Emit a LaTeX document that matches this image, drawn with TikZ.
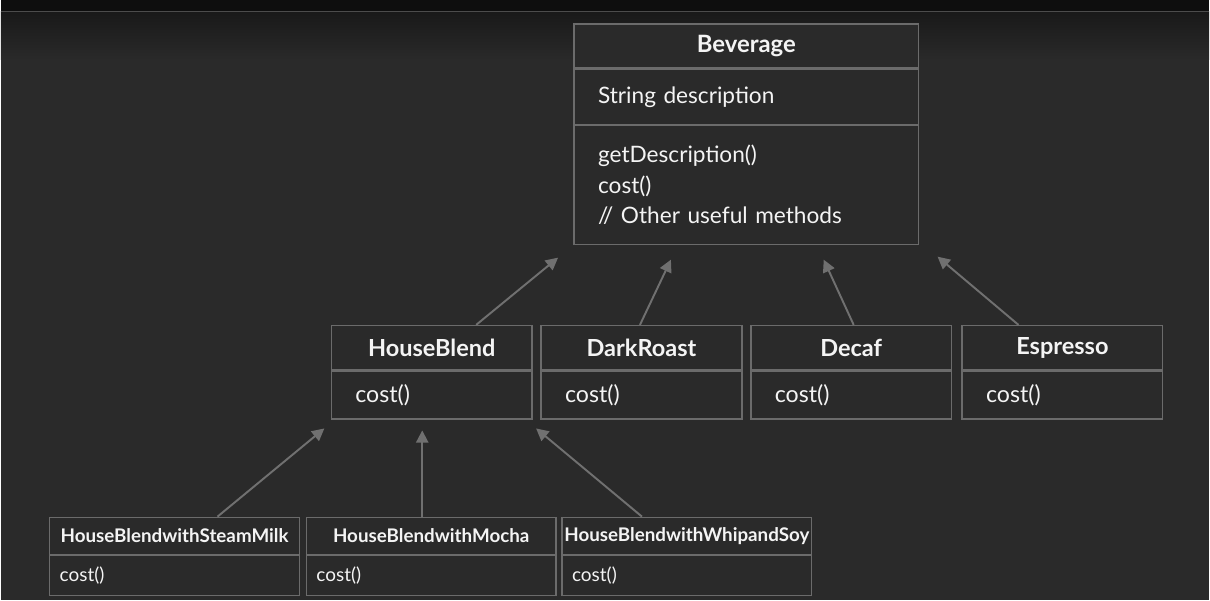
\documentclass[tikz,border=0pt]{standalone}
\usepackage{fontspec}
\setmainfont{Lato}
\usetikzlibrary{positioning,arrows.meta}

\definecolor{bgcol}{HTML}{2A2A2A}
\definecolor{topcol}{HTML}{0E0E0E}
\definecolor{rulecol}{HTML}{4C4C4C}
\definecolor{edgecol}{HTML}{6B6B6B}
\definecolor{arrowcol}{HTML}{707070}
\definecolor{textcol}{HTML}{F4F4F4}

\tikzset{
  box/.style={draw=edgecol, line width=0.8pt, fill=bgcol, text=textcol, inner sep=0pt},
  bigtitle/.style={box, font=\bfseries\fontsize{13.6}{16}\selectfont, minimum width=6.9cm, minimum height=0.88cm},
  bigbody/.style={box, font=\fontsize{12.9}{17.3}\selectfont, align=left, inner xsep=0.48cm, text width=5.94cm},
  midtitle/.style={box, font=\bfseries\fontsize{13.4}{16}\selectfont, minimum width=4.02cm, minimum height=0.88cm},
  midbody/.style={box, font=\fontsize{13.2}{16}\selectfont, align=left, inner xsep=0.48cm, text width=3.06cm, minimum height=0.96cm},
  smalltitle/.style={box, font=\bfseries\fontsize{10.7}{13}\selectfont, minimum width=5cm, minimum height=0.74cm},
  smallbody/.style={box, font=\fontsize{10.8}{13}\selectfont, align=left, inner xsep=0.2cm, text width=4.6cm, minimum height=0.8cm},
  inherit/.style={draw=arrowcol, line width=1.1pt, -{Triangle[length=7pt, width=7pt]}}
}

\begin{document}
\begin{tikzpicture}[x=0.02cm, y=-0.02cm]
  % background
  \fill[bgcol] (0,0) rectangle (1210,601);
  \shade[top color=topcol!60!bgcol, bottom color=bgcol] (0,12) rectangle (1210,60);
  \fill[topcol] (0,0) rectangle (1210,11);
  \draw[rulecol, line width=0.9pt] (0,11.5) -- (1210,11.5);

  % base class
  \node[bigtitle] (Bev) at (746.5,46) {Beverage};
  \node[bigbody, minimum height=1.1cm, below=0pt of Bev] (BevAttr) {String description};
  \node[bigbody, minimum height=2.38cm, below=0pt of BevAttr] (BevOps) {getDescription()\\cost()\\// Other useful methods};

  % subclasses
  \node[midtitle] (HB) at (431.5,348) {HouseBlend};
  \node[midbody, below=0pt of HB] (HBOps) {cost()};
  \node[midtitle] (DR) at (641.5,348) {DarkRoast};
  \node[midbody, below=0pt of DR] (DROps) {cost()};
  \node[midtitle] (De) at (851.5,348) {Decaf};
  \node[midbody, below=0pt of De] (DeOps) {cost()};
  \node[midtitle] (Es) at (1063,348) {Espresso};
  \node[midbody, below=0pt of Es] (EsOps) {cost()};

  % house blend variants
  \node[smalltitle] (SM) at (174,536.5) {HouseBlendwithSteamMilk};
  \node[smallbody, below=0pt of SM] (SMOps) {cost()};
  \node[smalltitle] (Mo) at (431,536.5) {HouseBlendwithMocha};
  \node[smallbody, below=0pt of Mo] (MoOps) {cost()};
  \node[smalltitle] (WS) at (687,536.5) {HouseBlendwithWhipandSoy};
  \node[smallbody, below=0pt of WS] (WSOps) {cost()};

  % arrow tips
  \coordinate (HBtip) at (558,258);
  \coordinate (DRtip) at (671,260);
  \coordinate (Detip) at (824,260);
  \coordinate (Estip) at (938,257);
  \coordinate (SMtip) at (324,429);
  \coordinate (Motip) at (422,431);
  \coordinate (WStip) at (536,429);

  \draw[inherit] (HB.north) ++(44.5,0) -- (HBtip);
  \draw[inherit] (DR.north) ++(-1.5,0) -- (DRtip);
  \draw[inherit] (De.north) ++(2.5,0) -- (Detip);
  \draw[inherit] (Es.north) ++(-44,0) -- (Estip);
  \draw[inherit] (SM.north) ++(43,0) -- (SMtip);
  \draw[inherit] (Mo.north) ++(-9,0) -- (Motip);
  \draw[inherit] (WS.north) ++(-45,0) -- (WStip);
\end{tikzpicture}
\end{document}
